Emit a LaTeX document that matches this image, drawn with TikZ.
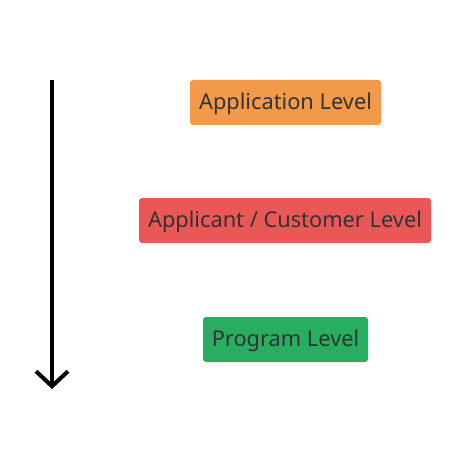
\documentclass[tikz,border=0pt]{standalone}
\usepackage{fontspec}
\setmainfont{Noto Sans}
\usetikzlibrary{arrows.meta}
\definecolor{orangebox}{HTML}{F2994A}
\definecolor{redbox}{HTML}{EB5757}
\definecolor{greenbox}{HTML}{27AE60}
\definecolor{txt}{HTML}{333333}
\begin{document}
\begin{tikzpicture}[x=1pt,y=-1pt,
  levelbox/.style={rounded corners=3pt,minimum height=45pt,inner sep=0pt,text=txt,
    font=\fontsize{21.8}{24}\selectfont,text height=15.6pt,text depth=0pt,anchor=center},
  axis/.style={line width=4pt,-{Straight Barb[length=15pt,width=32pt,line width=4pt]}}]
\useasboundingbox[fill=white] (0,0) rectangle (466,470);
\node[levelbox,fill=orangebox,minimum width=191pt] (app) at (285.5,102.5) {\raisebox{1pt}{Application Level}};
\node[levelbox,fill=redbox,minimum width=292pt] (cust) at (285,220.5) {\raisebox{1pt}{Applicant / Customer Level}};
\node[levelbox,fill=greenbox,minimum width=165pt] (prog) at (285.5,339.5) {\raisebox{1pt}{Program Level}};
\coordinate (top) at (52,80);
\coordinate (bot) at (52,389);
\draw[axis] (top) -- (bot);
\end{tikzpicture}
\end{document}
